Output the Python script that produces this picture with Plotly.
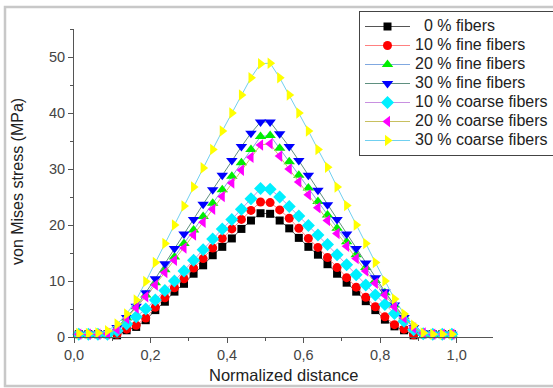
import plotly.graph_objects as go

# Normalized distance (node positions along the path)
x = [0.0125, 0.0375, 0.0625, 0.0875, 0.1125, 0.1375, 0.1625, 0.1875, 0.2125, 0.2375,
     0.2625, 0.2875, 0.3125, 0.3375, 0.3625, 0.3875, 0.4125, 0.4375, 0.4625, 0.4875,
     0.5125, 0.5375, 0.5625, 0.5875, 0.6125, 0.6375, 0.6625, 0.6875, 0.7125, 0.7375,
     0.7625, 0.7875, 0.8125, 0.8375, 0.8625, 0.8875, 0.9125, 0.9375, 0.9625, 0.9875]

fibers_0 = [0.5, 0.5, 0.5, 0.5, 0.3, 1.2, 1.8, 3.0, 4.8, 6.3,
            8.1, 9.5, 11.3, 12.8, 14.6, 16.1, 17.6, 19.3, 20.8, 22.1,
            22.0, 20.8, 19.4, 17.7, 16.1, 14.7, 13.0, 11.3, 9.7, 8.1,
            6.4, 4.8, 3.1, 1.9, 1.2, 0.3, 0.5, 0.5, 0.5, 0.5]

fine_10 = [0.5, 0.5, 0.5, 0.5, 0.5, 1.4, 2.1, 3.4, 5.3, 7.0,
           8.8, 10.4, 12.3, 14.0, 15.9, 17.6, 19.3, 21.0, 22.6, 24.1,
           24.0, 22.7, 21.2, 19.4, 17.6, 16.0, 14.2, 12.4, 10.6, 8.9,
           7.1, 5.4, 3.6, 2.2, 1.4, 0.4, 0.5, 0.5, 0.5, 0.5]

fine_20 = [0.5, 0.5, 0.5, 0.6, 1.5, 3.4, 5.4, 7.5, 9.7, 12.0,
           14.3, 16.7, 19.1, 21.5, 23.9, 26.3, 28.7, 31.1, 33.5, 35.8,
           36.0, 33.7, 31.3, 28.9, 26.6, 24.2, 21.8, 19.4, 17.0, 14.7,
           12.4, 10.1, 7.9, 5.7, 3.6, 1.7, 0.7, 0.5, 0.5, 0.5]

fine_30 = [0.5, 0.5, 0.5, 0.6, 1.7, 3.5, 5.5, 7.9, 10.4, 13.1,
           15.8, 18.4, 21.0, 23.7, 26.3, 28.9, 31.5, 34.0, 36.4, 38.4,
           38.4, 36.3, 34.0, 31.5, 28.9, 26.2, 23.6, 21.0, 18.4, 15.8,
           13.2, 10.6, 8.1, 5.7, 3.5, 1.7, 0.7, 0.5, 0.5, 0.5]

coarse_10 = [0.5, 0.5, 0.5, 0.5, 1.1, 2.3, 3.6, 5.0, 6.6, 8.3,
             10.0, 11.8, 13.7, 15.6, 17.5, 19.3, 21.0, 22.8, 24.7, 26.5,
             26.4, 25.0, 23.3, 21.6, 19.9, 18.2, 16.5, 14.7, 12.9, 11.1,
             9.3, 7.5, 5.8, 4.2, 2.8, 1.3, 0.6, 0.5, 0.5, 0.5]

coarse_20 = [0.5, 0.5, 0.5, 0.6, 1.4, 3.3, 5.2, 7.2, 9.3, 11.5,
             13.7, 15.9, 18.2, 20.5, 22.8, 25.1, 27.5, 29.8, 32.1, 34.3,
             34.5, 32.3, 30.0, 27.7, 25.4, 23.1, 20.8, 18.5, 16.2, 14.0,
             11.8, 9.6, 7.5, 5.4, 3.4, 1.6, 0.7, 0.5, 0.5, 0.5]

coarse_30 = [0.6, 0.6, 0.7, 1.1, 2.3, 4.1, 6.6, 9.9, 13.3, 16.7,
             20.0, 23.4, 26.8, 30.2, 33.5, 36.8, 40.0, 43.2, 46.3, 48.8,
             48.9, 46.3, 43.2, 40.0, 36.8, 33.5, 30.3, 26.8, 23.5, 20.0,
             16.7, 13.3, 10.0, 6.8, 4.1, 2.1, 0.7, 0.5, 0.5, 0.5]

names = ["\u00a0\u00a00 % fibers", "10 % fine fibers", "20 % fine fibers", "30 % fine fibers",
         "10 % coarse fibers", "20 % coarse fibers", "30 % coarse fibers"]
series = [fibers_0, fine_10, fine_20, fine_30, coarse_10, coarse_20, coarse_30]
marker_colors = ["#000000", "#ff0000", "#00ee00", "#0000ff", "#00f0ff", "#ff00ff", "#ffff00"]
line_colors = ["#555555", "#ff8080", "#80a8e0", "#5f9080", "#c890e0", "#c8c060", "#70d0f0"]
symbols = ["square", "circle", "triangle-up", "triangle-down", "diamond", "triangle-left", "triangle-right"]
sizes = [8, 9, 10, 10, 10, 10, 10]

fig = go.Figure()
for nm, ys, mc, lc, sym, sz in zip(names, series, marker_colors, line_colors, symbols, sizes):
    fig.add_trace(go.Scatter(
        x=x, y=ys, name='<span style="font-size:16px">' + nm + '</span>',
        mode="lines+markers", cliponaxis=False,
        line=dict(color=lc, width=1),
        marker=dict(color=mc, symbol=sym, size=sz, line=dict(width=0)),
    ))

W, H = 553, 388
L, R, T, B = 74, 60, 29, 51
pw, ph = W - L - R, H - T - B

def px_x(p):
    return (p - L) / pw

def px_y(p):
    return (H - B - p) / ph

axis_col = "#555555"
fig.update_layout(
    width=W, height=H,
    margin=dict(l=L, r=R, t=T, b=B, autoexpand=False),
    paper_bgcolor="white", plot_bgcolor="white",
    separators=",.",
    font=dict(family="Liberation Sans, Arial, sans-serif", color="#333333"),
    showlegend=True,
    legend=dict(
        x=px_x(359), y=px_y(11), xanchor="left", yanchor="top",
        bgcolor="white", bordercolor="#444444", borderwidth=1,
        font=dict(size=12.3, color="#222222"),
        tracegroupgap=0, itemwidth=45,
    ),
    xaxis=dict(
        range=[0, 1.095], showgrid=False, zeroline=False,
        showline=True, linecolor=axis_col, linewidth=1,
        ticks="outside", ticklen=5, tickcolor=axis_col, tickwidth=1,
        tick0=0, dtick=0.2, tickformat=".1f",
        minor=dict(ticks="outside", ticklen=3, tickcolor=axis_col, dtick=0.1, tick0=0),
        tickfont=dict(size=14.5, color="#444444"),
    ),
    yaxis=dict(
        range=[0, 55], showgrid=False, zeroline=False,
        showline=True, linecolor=axis_col, linewidth=1,
        ticks="outside", ticklen=5, tickcolor=axis_col, tickwidth=1,
        tick0=0, dtick=10,
        minor=dict(ticks="outside", ticklen=3, tickcolor=axis_col, dtick=5, tick0=0),
        tickfont=dict(size=14.5, color="#444444"),
    ),
    annotations=[
        dict(text="Normalized distance", xref="paper", yref="paper",
             x=0.5, y=px_y(375), xanchor="center", yanchor="middle",
             showarrow=False, font=dict(size=16.5, color="#222222")),
        dict(text="von Mises stress (MPa)", xref="paper", yref="paper",
             x=px_x(17), y=px_y(182), xanchor="center", yanchor="middle",
             textangle=-90, showarrow=False, font=dict(size=16, color="#222222")),
    ],
    shapes=[
        dict(type="rect", xref="paper", yref="paper",
             x0=px_x(5), x1=px_x(556), y0=px_y(386), y1=px_y(7),
             line=dict(color="#c8c8c8", width=2.5), layer="below"),
    ],
)

fig.write_html("out.html")
